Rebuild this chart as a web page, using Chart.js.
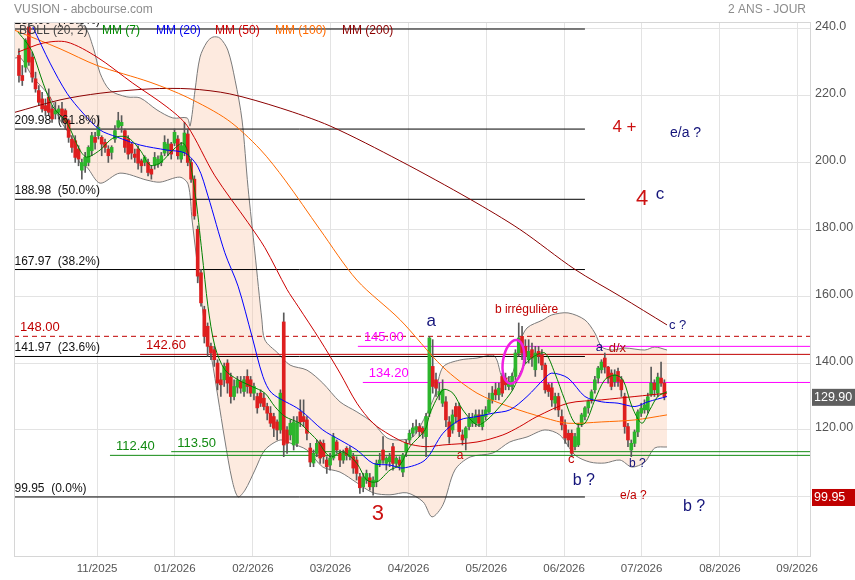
<!DOCTYPE html>
<html>
<head>
<meta charset="utf-8">
<script src="https://cdn.jsdelivr.net/npm/chart.js@4.4.1/dist/chart.umd.min.js"></script>
<style>
  html, body { margin: 0; padding: 0; background: #fff; }
  #wrap { width: 855px; height: 580px; }
</style>
</head>
<body>
<div id="wrap"><canvas id="chart" width="855" height="580"></canvas></div>
<script>
// --- cours journaliers (une bougie par séance) ---
const opens = [232,226,228.5,240.5,231.5,225,221.5,219,217,219.5,216,214.5,215,216,215.5,212.5,207,206.5,204,197.7,
  199,200,203.5,207.5,208,207.5,206,204,203,207,210.5,211,209.5,207,205.5,202.5,204,200.5,200,200,
  198,199.2,199.5,200,202.8,203.5,205.5,205.8,207,201,203,208.5,200,195,180,167,156,151,145,144,
  140,135,135,140,135.8,130,132.8,134.5,131.5,136,135,131,130,131,129.5,127,125,124,122.4,120,
  152.3,120,118.5,115.5,116,125.4,124,123,114.6,110.1,113,116.4,116,111,109.5,111.6,116.4,113,111,114.5,
  112,112,111,106,103,105,105.7,103,104.5,110,114,110,110.5,115,110,111,107.4,113.4,117,119,
  120,121,120.5,118,125,139,135,130.5,128,128.4,122.4,120,127,127,118.5,117.6,121,122,122,124.5,
  121,124,125.4,129,132,130.5,136,135.5,133,133,136,143,148,145,141,144,138,143.5,142.4,139.4,
  133.5,132.6,128,130,124,121.5,119,119,115,115.5,122,124,126.6,129,132,135.5,138,141.5,138.8,137,
  134.4,137.5,135,130,121,114,116,119.4,125,126,126,130.5,134,131,135.5,134];
const highs = [234,229,237,243,233,227,223,221,219,222,217,218,217,218,216,213,208,208,205,201,
  203,205,209,209,214,208,207,205,205,211,215,214,210,208,206,204,205,201,202,201,
  199,203,202,203,208,207,206,210,208,206,212,210,201,196,181,168,157,152,146,145,
  141,137,140,141,137,135,136,136,136,138,136,134,131,132,131,128,127,125,123,132,
  155,121,123,124,124,129,129,124,116,114,117,117,117,112,113,119,117,114,114,115,
  115,113,112,107,107,108,107,106,111,113,118,112,113,116,112,112,113,117,120,122,
  123,122,121,125,148,147,137,134,135,130,124,126,128,128,120,121,125,125,126,126,
  126,127,131,133,134,134,137,137,136,137,144,152,151,147,147,146,145,145,144,140,
  134,134,131,131,126,123,120,120,119,122,125,127,129,132,136,139,141,143,139,138,
  138,138.5,136,131,122,117,120,126,128,129,131,138.8,135,137,140.3,135];
const lows = [224,223,227,229,224,221,217,215,214,214,212,213,213,212,210,206,203,200,199,195,
  197,199,202,204,207,202,203,200,201,206,210,209,203,201,201,200,198,197,199,196,
  195,198,198.5,199,202,202,201,205,201,200,202,199,194,183,164,157,146,142,141,139,
  132,130,133,131,128,129,131,131,130,131,130,129,125,127,126,123,121,118,117,119,
  112,113,117,114,115,121,121,117,109,109,112,110,110,107,108,111,113,109,110,111,
  111,107,105,101,101.5,104,102,100.5,103,109,110,108,109,108,109,108,106,112,116,118,
  119,118,117.5,112,124,131,130,129,127,121,116,119,122,118,115.5,114,120,121,121,121,
  120,123,125,128,129,129,130,132,132,132,135,142,141,140,140,139,136,140,138,131,
  130,127,126,124,120,116,115,112,114,115,121,123,125,128,131,134,137,137,134,132,
  133,133,130,119,115,112,115,118,124,125,125,130,130,130,133,129];
const closes = [226,224.5,236.5,230,225.5,222,218,216,215.5,215,213,215.5,216,214,212,207.5,204.5,201.5,201,200,
  201.5,204.5,208,206,210.5,205.5,204.5,202,204.5,209.5,212.5,212,204.5,202.5,202.8,201.5,199.8,199,201.5,197,
  196.5,201.5,201,202,206,205.5,202.5,209,202,205,208.8,200,195,184,166,158,148,145,143,141,
  134,133.5,139,134,130,133,134.9,132.5,135,133,131,133,126.6,128,127,125,122,120.5,120,131,
  115.5,116,122,122.4,122,122.4,122.5,119,110.4,113,116,111.6,112,109,111.6,118,114,111,113,112.5,
  114,108.6,107,102.7,105.7,107,103,105,110,111,111,111.5,112,110,111.5,109.5,112.5,116,119,120.6,
  121,119.5,119,124,147.5,133,132.5,131.5,132,123,118,124.5,124,119.5,117,120.6,123.6,123.5,124.5,122,
  124.5,126,129,131,130.5,132.5,131,133.5,134.5,136,143,147.5,143,142,143.5,141.5,143,142,139.4,132,
  131.5,129,130,126,121.5,117.6,117,113,118,120.6,124.5,126.6,128.5,131.4,135,138.5,140.3,138.8,135.5,133,
  136.5,134.5,132,121,117,116,119.4,125.4,126.5,127.5,129.9,134,132,135.8,134,129.9];

// --- indicateurs : [séance, valeur] ---
const mm7 = [[-0.3,239],[2.4,235.7],[4.2,232.7],[7.3,223.7],[10.3,216.6],[14.5,211.8],[18.4,203.7],[20.5,201.6],
  [24.5,203.7],[28.4,207.3],[32.6,207.6],[36.6,203.7],[39.6,199.2],[42.6,199.8],[46.5,203.7],[49.5,205.8],
  [51.1,202.8],[53.2,191],[55.3,173],[57.1,157],[59.2,145],[62.2,138],[66.2,135],[70.4,133],[74.3,131],
  [77.3,127],[80.4,124],[84.9,122],[87,120],[90,117],[94,112],[97.9,113.4],[102.1,110],[105.1,105],
  [108.2,104.5],[112.1,108],[115.1,109.5],[118.1,115],[122.7,120],[124.2,125],[128.1,132],[131.1,131],
  [134.1,126],[138.4,121.5],[141.4,123],[145.3,127],[149.2,132],[152.3,138.8],[155.3,141.8],[158.9,143],
  [161.9,137],[164.9,129],[168,122],[171,122],[174,129],[177,135],[180.1,136.4],[182.5,135],[185.2,127],
  [188.2,122],[190.6,126],[193,130],[195.8,131.4]];
const mm20 = [[4.2,240.5],[9.4,229.7],[14.5,220.7],[19.3,214.8],[24.5,209.7],[29.6,207.6],[36.6,205.2],[44.7,203.7],
  [50.2,202.8],[54.1,198.6],[57.1,190],[62.2,173],[66.2,163],[70.4,148],[73.7,136],[76.4,131],[84.9,126],
  [91.8,120],[97,117],[102.1,114],[107,110],[112.1,109.5],[116,108.6],[122.7,111],[128.1,119],[133.2,123],
  [138.4,124],[143.2,125],[148.3,126],[153.5,130],[158.9,135.5],[161,137],[165.9,135.5],[171,130],
  [176.1,128.4],[181,128],[186.1,127],[190,128.4],[195.8,130]];
const mm50 = [[-0.3,233],[7.3,235.7],[14.5,236],[23.6,231.5],[34.4,223.7],[44.7,216.6],[50.8,211],[59.2,196],
  [69.2,182],[74.3,174.5],[81,162],[84.3,157],[90.9,147],[97,137],[102.1,128],[107,122],[112.1,118.5],
  [117.2,116],[122.7,115],[128.1,115.5],[138.4,116.4],[146.2,118.5],[151.3,121],[156.5,124],[165.9,128],
  [176.1,129],[186.1,130],[195.8,131]];
const mm100 = [[-1.2,239.5],[12.4,234],[23.6,229],[39.6,224],[50.8,219.5],[63.1,212.7],[72.8,204],[80.4,194.7],
  [90.9,180],[102.1,164.8],[115.1,153],[128.1,138.8],[138.4,131],[148.3,126.9],[158.9,123.6],[165.9,122],
  [176.1,122.4],[186.1,123],[195.8,124.5]];
const mm200 = [[-1.2,215],[12.4,218.7],[24.5,220.7],[39.6,222],[51.7,222],[63.7,220.5],[78.9,216.3],[94,210.9],
  [115.1,200.5],[136.3,189],[151.3,180],[168,168],[181.6,160],[195.8,151.4]];
const bollUpper = [[-1.5,242],[9.4,242.6],[19.3,241],[22.4,234.5],[24.5,226.7],[27.5,221.6],[32.6,219.6],[36.6,219.3],
  [41.7,215.7],[46.5,213.3],[50.8,213.3],[51.7,210.9],[53.2,221.6],[54.7,231.5],[56.8,236],[58.6,237.5],
  [60.7,237.2],[63.1,233.6],[65.3,224.6],[67.4,212.7],[69.2,192.6],[71.3,172.9],[73.4,152.9],[74.3,146.9],
  [78.2,143],[81.9,139.4],[87,137.9],[91.8,134],[97,128.4],[102.1,125.4],[107,122.1],[111.2,117.6],
  [115.1,117],[119,117.9],[122.7,123.9],[125.7,130.5],[128.1,138.8],[133.2,140.9],[138.4,141.5],[143.2,142.4],
  [144.4,140.9],[146.2,135.5],[148.9,136.4],[151.3,146],[153.5,150.5],[158.3,152.9],[161,154.4],[165.9,155],
  [171,152.9],[174,149],[176.1,144.8],[179.2,143.9],[183.1,144.5],[189.1,143.9],[192.1,144.8],[195.8,143.9]];
const bollLower = [[-1.5,231.2],[0.6,231.2],[4.2,225.5],[9.4,219.6],[12.4,212.7],[16.3,206.7],[18.4,199.8],[20.5,198.6],
  [24.5,193.8],[30.5,196.8],[38.7,194.7],[42.6,194.1],[48.6,195.6],[51.1,193.5],[52.3,182.8],[54.1,167.8],
  [56.2,150.8],[58.3,140.9],[60.1,129.9],[62.2,117],[64.4,105],[66.2,100],[68.3,102],[71.3,108],[74.3,114],
  [78.9,117],[81.9,116.1],[87,114],[91.8,108.9],[97,107.4],[102.1,104.2],[107,101.2],[112.1,100.6],
  [117.2,101.2],[122.1,98.5],[124.8,94],[128.1,97.6],[131.7,108],[136.3,111.9],[143.2,113.1],[148.3,116.4],
  [153.5,117.9],[158.9,120],[163.4,118.5],[168,112.5],[172.5,110.4],[177,110.1],[181.6,111],[185.2,108.9],
  [189.1,110.4],[192.1,114.6],[195.8,114.9]];

// --- niveaux tracés ---
const fibLevels = [239.9, 209.98, 188.98, 167.97, 141.97, 99.95];
const fibLabels = ['239.90  (78.6%)', '209.98  (61.8%)', '188.98  (50.0%)', '167.97  (38.2%)', '141.97  (23.6%)', '99.95  (0.0%)'];
const levelValues = [148.00, 145.00, 142.60, 134.20, 113.50, 112.40];
const levelLabels = ['148.00', '145.00', '142.60', '134.20', '113.50', '112.40'];
const levelStarts = [-1.5, 102.4, 36.6, 103.9, 46, 27.5];
const levelColors = ['#c00000', '#ff00ff', '#c00000', '#ff00ff', '#118a11', '#118a11'];

// --- axes ---
const monthTickIdx = [23.6, 47.1, 70.7, 94.1, 117.7, 141.2, 164.7, 188.1, 211.8, 235.1];
const monthLabels = ['11/2025', '01/2026', '02/2026', '03/2026', '04/2026', '05/2026', '06/2026', '07/2026', '08/2026', '09/2026'];
const yTickValues = [100, 120, 140, 160, 180, 200, 220, 240];
const yTickLabels = ['', '120.00', '140.00', '160.00', '180.00', '200.0', '220.0', '240.0'];
const lastClose = 129.90;
const fibBase = 99.95;

// --- annotations de vagues ---
const notes = [
  { t: 'a', x: 123.1, y: 151, c: '#14147a', s: 17 },
  { t: 'b irrégulière', x: 143.8, y: 155.1, c: '#c00000', s: 12 },
  { t: 'a', x: 132.3, y: 111.3, c: '#c00000', s: 12 },
  { t: '3', x: 106.6, y: 93.1, c: '#cc1111', s: 22 },
  { t: '4 +', x: 179.3, y: 209.2, c: '#cc1111', s: 17 },
  { t: 'e/a ?', x: 196.7, y: 207.7, c: '#14147a', s: 14 },
  { t: '4', x: 186.4, y: 187.3, c: '#cc1111', s: 22 },
  { t: 'c', x: 192.4, y: 189, c: '#14147a', s: 17 },
  { t: 'c ?', x: 196.4, y: 150.2, c: '#14147a', s: 13 },
  { t: 'a', x: 174.3, y: 143.7, c: '#14147a', s: 13 },
  { t: 'd/x', x: 178.2, y: 143.3, c: '#b01010', s: 13 },
  { t: 'c', x: 165.9, y: 110.1, c: '#c00000', s: 13 },
  { t: 'b ?', x: 167.3, y: 103.6, c: '#14147a', s: 16 },
  { t: 'b ?', x: 184.3, y: 109, c: '#14147a', s: 12 },
  { t: 'e/a ?', x: 181.6, y: 99.4, c: '#c00000', s: 12 },
  { t: 'b ?', x: 200.6, y: 95.8, c: '#14147a', s: 16 }
];
const circleAt = { x: 149.4, y: 140.4 };

const FONT = "'Liberation Sans', Arial, sans-serif";
Chart.defaults.font.family = FONT;

const toXY = pts => pts.map(([x, y]) => ({ x, y }));
const upColor = '#2cb52c';
const downColor = '#de1f1f';

const wickData = closes.map((c, i) => ({ x: i, y: [lows[i], highs[i]] }));
const bodyData = closes.map((c, i) => ({ x: i, y: [opens[i], c] }));
const bodyColors = closes.map((c, i) => c >= opens[i] ? upColor : downColor);

function lineSet(pts, color, order) {
  return { type: 'line', data: toXY(pts), borderColor: color, borderWidth: 1, pointRadius: 0, tension: 0.3, order };
}

const levelSets = [];
fibLevels.forEach(v => {
  levelSets.push({ type: 'line', data: [{ x: -1.5, y: v }, { x: 171, y: v }], borderColor: '#000', borderWidth: 1, pointRadius: 0, order: 15 });
});
levelValues.forEach((v, i) => {
  levelSets.push({
    type: 'line', data: [{ x: levelStarts[i], y: v }, { x: 239, y: v }],
    borderColor: levelColors[i], borderWidth: 1, pointRadius: 0, order: 15,
    borderDash: i === 0 ? [5, 4] : []
  });
});

const textPlugin = {
  id: 'textes',
  afterDatasetsDraw(chart) {
    const { ctx, chartArea: a, scales: { x, y } } = chart;
    ctx.save();
    ctx.beginPath();
    ctx.rect(a.left, a.top, a.right - a.left, a.bottom - a.top);
    ctx.clip();
    ctx.textAlign = 'left';
    ctx.textBaseline = 'alphabetic';
    ctx.font = '12px ' + FONT;
    ctx.fillStyle = '#111';
    fibLevels.forEach((v, i) => {
      ctx.fillText(fibLabels[i], x.getPixelForValue(-1.5) + 0.5, y.getPixelForValue(v) - 5);
    });
    levelValues.forEach((v, i) => {
      ctx.fillStyle = levelColors[i];
      ctx.font = '13px ' + FONT;
      ctx.fillText(levelLabels[i], x.getPixelForValue(levelStarts[i]) + 6, y.getPixelForValue(v) - 5);
    });
    notes.forEach(n => {
      ctx.fillStyle = n.c;
      ctx.font = n.s + 'px ' + FONT;
      ctx.fillText(n.t, x.getPixelForValue(n.x), y.getPixelForValue(n.y));
    });
    // ellipse magenta
    ctx.strokeStyle = '#f020e0';
    ctx.lineWidth = 2.5;
    ctx.beginPath();
    ctx.ellipse(x.getPixelForValue(circleAt.x), y.getPixelForValue(circleAt.y), 10.5, 22, 0.16, 0, Math.PI * 2);
    ctx.stroke();
    ctx.restore();
  },
  afterDraw(chart) {
    const { ctx, chartArea: a, scales: { y } } = chart;
    ctx.save();
    // cadre
    ctx.strokeStyle = '#d6d6d6';
    ctx.lineWidth = 1;
    ctx.strokeRect(a.left + 0.5, a.top + 0.5, a.right - a.left, a.bottom - a.top);
    // titre
    ctx.font = '12px ' + FONT;
    ctx.fillStyle = '#8c8c8c';
    ctx.textBaseline = 'alphabetic';
    ctx.textAlign = 'left';
    ctx.fillText('VUSION - abcbourse.com', 14, 13);
    ctx.textAlign = 'right';
    ctx.fillText('2 ANS - JOUR', 806, 13);
    // légende
    ctx.textAlign = 'left';
    const legend = [['BOLL (20, 2)', '#444', 19], ['MM (7)', '#008800', 102], ['MM (20)', '#0000ee', 156],
      ['MM (50)', '#cc0000', 215], ['MM (100)', '#ff6a00', 275], ['MM (200)', '#8b0000', 342]];
    legend.forEach(([t, c, px]) => { ctx.fillStyle = c; ctx.fillText(t, px, 34); });
    // étiquettes de valeurs à droite
    const tag = (v, bg) => {
      const py = y.getPixelForValue(v);
      ctx.fillStyle = bg;
      ctx.fillRect(a.right + 2, py - 8, 855 - a.right - 2, 17);
      ctx.fillStyle = '#fff';
      ctx.font = '12.5px ' + FONT;
      ctx.textBaseline = 'middle';
      ctx.fillText(v.toFixed(2), a.right + 4, py + 1);
    };
    tag(lastClose, '#5f5f5f');
    tag(fibBase, '#c00000');
    ctx.restore();
  }
};

new Chart(document.getElementById('chart'), {
  type: 'bar',
  data: {
    datasets: [
      { type: 'line', data: toXY(bollUpper), borderColor: '#7a7a7a', borderWidth: 1, pointRadius: 0, tension: 0.3,
        fill: '+1', backgroundColor: 'rgba(250, 200, 170, 0.38)', order: 20 },
      { type: 'line', data: toXY(bollLower), borderColor: '#7a7a7a', borderWidth: 1, pointRadius: 0, tension: 0.3, order: 19 },
      ...levelSets,
      { type: 'bar', data: wickData, backgroundColor: '#5a5a5a', grouped: false, barThickness: 1, maxBarThickness: 1, order: 10 },
      { type: 'bar', data: bodyData, backgroundColor: bodyColors, grouped: false, barThickness: 3, maxBarThickness: 3, minBarLength: 1, order: 9 },
      lineSet(mm200, '#8b0000', 5),
      lineSet(mm100, '#ff6a00', 4),
      lineSet(mm50, '#cc0000', 3),
      lineSet(mm20, '#0000ff', 2),
      lineSet(mm7, '#008000', 1)
    ]
  },
  options: {
    responsive: false,
    animation: false,
    events: [],
    layout: { padding: { left: 14, top: 22, right: 0, bottom: 0 } },
    plugins: { legend: { display: false }, tooltip: { enabled: false } },
    scales: {
      x: {
        type: 'linear', min: -1.5, max: 239, offset: false,
        afterBuildTicks: ax => { ax.ticks = monthTickIdx.map(v => ({ value: v })); },
        afterFit: ax => { ax.height = 24; },
        grid: { color: '#e3e3e3', drawTicks: false, offset: false },
        border: { display: false },
        ticks: { autoSkip: false, maxRotation: 0, padding: 6, color: '#555', font: { size: 11.5 },
          callback: (v, i) => monthLabels[i] }
      },
      y: {
        type: 'linear', position: 'right', min: 82.3, max: 242, beginAtZero: false,
        afterBuildTicks: ax => { ax.ticks = yTickValues.map(v => ({ value: v })); },
        afterFit: ax => { ax.width = 45; },
        grid: { color: '#e3e3e3', drawTicks: false },
        border: { display: false },
        ticks: { padding: 5, labelOffset: -2, color: '#555', font: { size: 12.5 },
          callback: (v, i) => yTickLabels[i] }
      }
    }
  },
  plugins: [textPlugin]
});
</script>
</body>
</html>
